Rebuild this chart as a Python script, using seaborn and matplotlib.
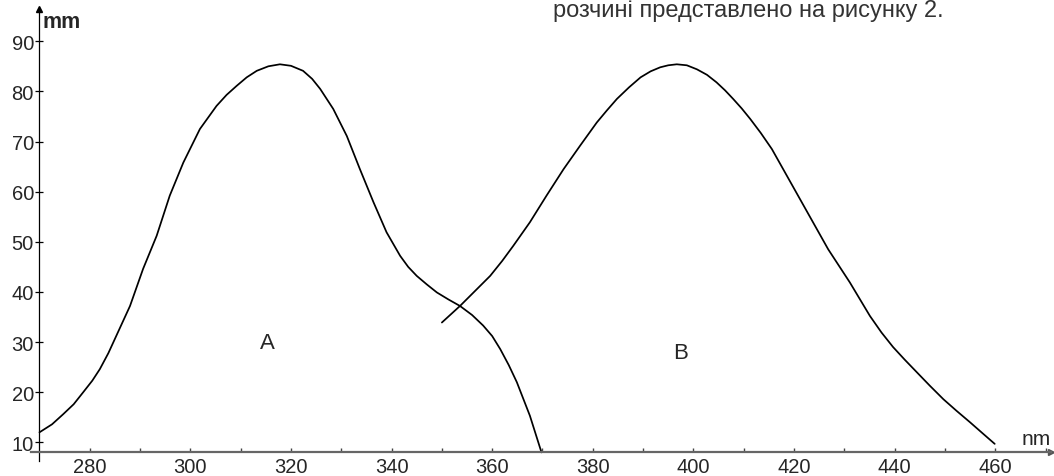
import numpy as np
import pandas as pd
import seaborn as sns
import matplotlib.pyplot as plt

# curve A
a_nm = [270, 272.5, 274.7, 276.8, 278.7, 280.5, 282.0, 283.7, 285.3, 288.0, 290.6,
        293.3, 295.9, 298.6, 301.9, 305.2, 307.2, 309.2, 311.2, 313.2, 315.5,
        317.8, 320.0, 322.4, 324.2, 325.8, 328.4, 331.1, 333.7, 336.4, 339.0,
        341.7, 343.3, 345.0, 347.0, 349.0, 351.3, 353.6, 356.0, 358.2, 360.0,
        361.6, 363.3, 364.9, 367.5, 369.8]
a_mm = [12.0, 13.6, 15.6, 17.6, 20.0, 22.3, 24.6, 27.8, 31.3, 37.2, 44.6,
        51.2, 59.2, 65.8, 72.5, 77.1, 79.3, 81.1, 82.8, 84.1, 85.0,
        85.4, 85.1, 84.1, 82.5, 80.5, 76.5, 71.1, 64.5, 57.9, 51.9,
        47.2, 45.0, 43.2, 41.5, 39.9, 38.5, 37.2, 35.4, 33.3, 31.2,
        28.6, 25.4, 22.0, 15.3, 8.0]

# curve B
b_nm = [350.0, 353.6, 356.6, 359.6, 362.0, 364.2, 367.5, 370.8, 374.2, 377.5,
        380.8, 382.8, 384.8, 387.2, 389.5, 391.5, 393.4, 395.0, 396.7, 398.7,
        400.7, 402.7, 404.6, 406.3, 407.9, 409.6, 411.3, 413.4, 415.6, 418.4,
        421.2, 424.0, 426.8, 431.1, 435.1, 437.4, 439.7, 442.0, 444.4, 447.0,
        449.7, 452.3, 455.0, 457.5, 459.9]
b_mm = [33.9, 37.2, 40.2, 43.2, 46.2, 49.2, 53.9, 59.2, 64.5, 69.2,
        73.8, 76.2, 78.5, 80.8, 82.8, 84.0, 84.8, 85.2, 85.4, 85.2,
        84.4, 83.3, 81.8, 80.2, 78.5, 76.6, 74.5, 71.7, 68.5, 63.5,
        58.5, 53.5, 48.5, 41.9, 35.2, 31.9, 29.0, 26.5, 24.0, 21.3,
        18.6, 16.3, 14.0, 11.8, 9.7]

curve_labels = ['A', 'B']
label_pos = [(315.4, 30.0), (397.5, 28.0)]

x_major = list(range(280, 461, 20))
x_minor = list(range(290, 471, 20))
y_ticks = list(range(10, 91, 10))

df = pd.concat([pd.DataFrame({'nm': a_nm, 'mm': a_mm, 'curve': 'A'}),
                pd.DataFrame({'nm': b_nm, 'mm': b_mm, 'curve': 'B'})], ignore_index=True)

sns.set_style('white')
plt.rcParams['font.family'] = ['Liberation Sans', 'DejaVu Sans']

fig = plt.figure(figsize=(10.54, 4.77), dpi=100)
ax = fig.add_axes([0.0279, 0.0285, 0.9712, 0.9618])

sns.lineplot(data=df, x='nm', y='mm', hue='curve', units='curve', estimator=None,
             sort=False, palette=['black', 'black'], linewidth=1.25, legend=False, ax=ax)

ax.set_xlim(268, 471.5)
ax.set_ylim(6, 97.5)

# axes crossing at (270, 8) with arrow heads
ax.spines[['top', 'right']].set_visible(False)
ax.spines['left'].set_position(('data', 270))
ax.spines['bottom'].set_position(('data', 8))
ax.spines['left'].set_bounds(6.2, 96.5)
ax.spines['bottom'].set_bounds(268.4, 471)
ax.spines['left'].set_color('black')
ax.spines['left'].set_linewidth(0.9)
ax.spines['bottom'].set_color('#666666')
ax.spines['bottom'].set_linewidth(1.6)
ax.plot(270, 96.5, marker='^', color='black', markersize=4, clip_on=False)
ax.plot(471, 8, marker='>', color='#555555', markersize=4, clip_on=False)

ax.set_xticks(x_major)
ax.set_xticks(x_minor, minor=True)
ax.set_yticks(y_ticks)
ax.tick_params(axis='x', which='both', direction='in', length=3, width=1, color='#444444',
               labelsize=14.5, pad=3.5, bottom=True)
ax.tick_params(axis='y', direction='inout', length=6, width=0.9, color='black',
               labelsize=14.5, pad=1, left=True)
ax.set_xlabel('')
ax.set_ylabel('')

ax.text(270.6, 92.8, 'mm', fontsize=15.5, fontweight='bold', ha='left', va='baseline')
ax.text(468.2, 9.6, 'nm', fontsize=15, ha='center', va='baseline')
for lab, (lx, ly) in zip(curve_labels, label_pos):
    ax.text(lx, ly, lab, fontsize=16, ha='center', va='center')

fig.text(553 / 1054, 1 - 16.5 / 477, 'розчині представлено на рисунку 2.',
         fontsize=17, color='#333333', ha='left', va='baseline')

plt.savefig('out.png', dpi=100)
